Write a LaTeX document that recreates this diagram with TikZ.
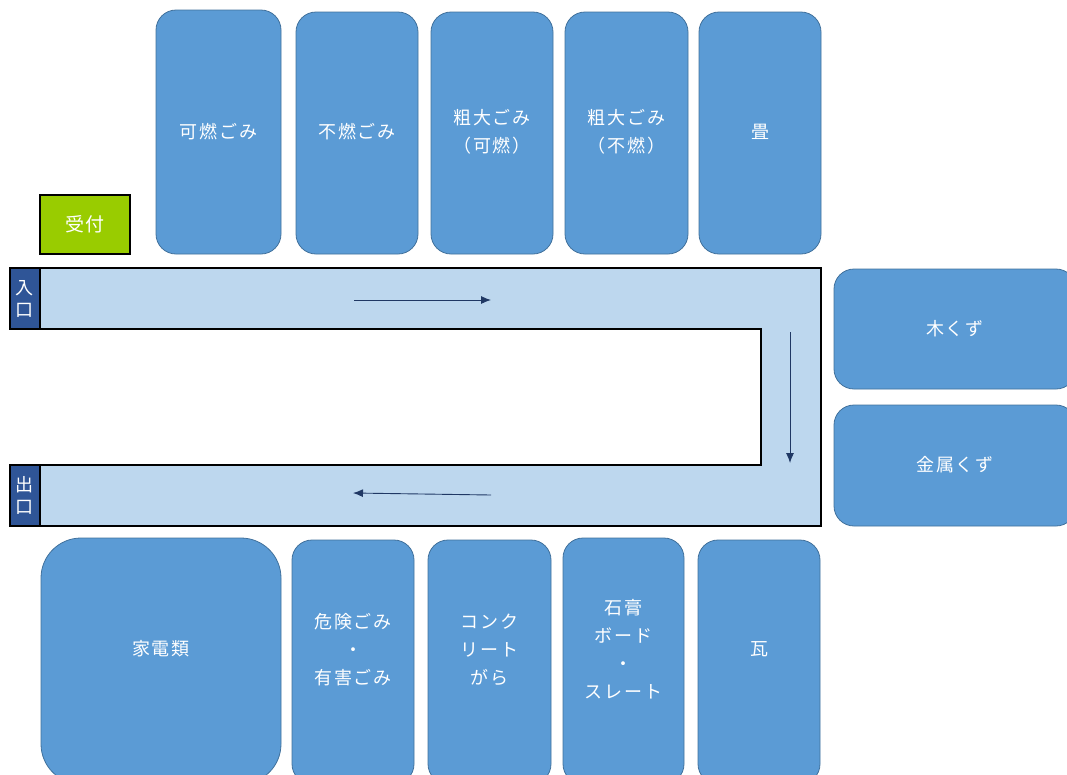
\documentclass[tikz,border=0pt]{standalone}
\usepackage{fontspec}
\newfontfamily\jp[LetterSpace=10]{Noto Sans CJK JP}
\newfontfamily\jpn{Noto Sans CJK JP}
\usetikzlibrary{arrows.meta}
\definecolor{boxfill}{HTML}{5B9BD5}
\definecolor{boxline}{HTML}{41719C}
\definecolor{road}{HTML}{BDD7EE}
\definecolor{gatec}{HTML}{2F5597}
\definecolor{recep}{HTML}{99CC00}
\definecolor{arr}{HTML}{203864}
\begin{document}
\begin{tikzpicture}[x=1pt,y=-1pt,
  area/.style={fill=boxfill,draw=boxline,line width=0.8pt,rounded corners=20pt},
  lbl/.style={text=white,font=\jp\fontsize{18}{28}\selectfont,align=center,inner sep=0pt},
  gatebox/.style={fill=gatec,draw=black,line width=2pt,minimum width=30pt,minimum height=61pt,inner sep=0pt,
    text=white,font=\jpn\fontsize{18}{22}\selectfont,align=center},
  flow/.style={draw=arr,line width=0.9pt,-{Latex[length=10pt,width=8pt]}}]
\useasboundingbox (0,0) rectangle (1067,774);
\clip (0,0) rectangle (1067,774);
% top areas
\path[area] (156,10) rectangle (281,254);
\node[lbl] (kanen) at (218.5,132) {可燃ごみ};
\path[area] (296,12) rectangle (418,254);
\node[lbl] (funen) at (357,132) {不燃ごみ};
\path[area] (431,12) rectangle (553,254);
\node[lbl] (sodaik) at (492,132) {粗大ごみ\\（可燃）};
\path[area] (565,12) rectangle (688,254);
\node[lbl] (sodaif) at (626.5,132) {粗大ごみ\\（不燃）};
\path[area] (699,12) rectangle (821,254);
\node[lbl] (tatami) at (760,132) {畳};
% reception
\node[fill=recep,draw=black,line width=2pt,minimum width=90pt,minimum height=59pt,inner sep=0pt,
  text=white,font=\jp\fontsize{19}{22}\selectfont] (uketsuke) at (85,224) {受付};
% corridor
\path[fill=road,draw=black,line width=2pt,line join=miter]
  (10,268) -- (821,268) -- (821,526) -- (10,526) -- (10,465) -- (761,465) -- (761,329) -- (10,329) -- cycle;
\node[gatebox] (iriguchi) at (25,298.5) {入\\口};
\node[gatebox] (deguchi) at (25,495.5) {出\\口};
% flow arrows
\coordinate (f1s) at (354,300); \coordinate (f1e) at (491,300);
\coordinate (f2s) at (790,332); \coordinate (f2e) at (790,463);
\coordinate (f3s) at (491,495); \coordinate (f3e) at (353,493);
\draw[flow] (f1s) -- (f1e);
\draw[flow] (f2s) -- (f2e);
\draw[flow] (f3s) -- (f3e);
% right areas
\path[area] (834,269) rectangle (1076,389);
\node[lbl] (mokuzu) at (955,329) {木くず};
\path[area] (834,405) rectangle (1076,526);
\node[lbl] (kinzoku) at (955,465) {金属くず};
% bottom areas
\path[area,rounded corners=40pt] (41,538) rectangle (281,784);
\node[lbl] (kaden) at (161,649) {家電類};
\path[area] (292,540) rectangle (414,784);
\node[lbl] (kiken) at (353,650) {危険ごみ\\・\\有害ごみ};
\path[area] (428,540) rectangle (551,784);
\node[lbl] (concrete) at (489.5,650) {コンク\\リート\\がら};
\path[area] (563,538) rectangle (684,784);
\node[lbl] (sekko) at (623.5,649) {石膏\\ボード\\・\\スレート};
\path[area] (698,540) rectangle (820,784);
\node[lbl] (kawara) at (759,649) {瓦};
\end{tikzpicture}
\end{document}
